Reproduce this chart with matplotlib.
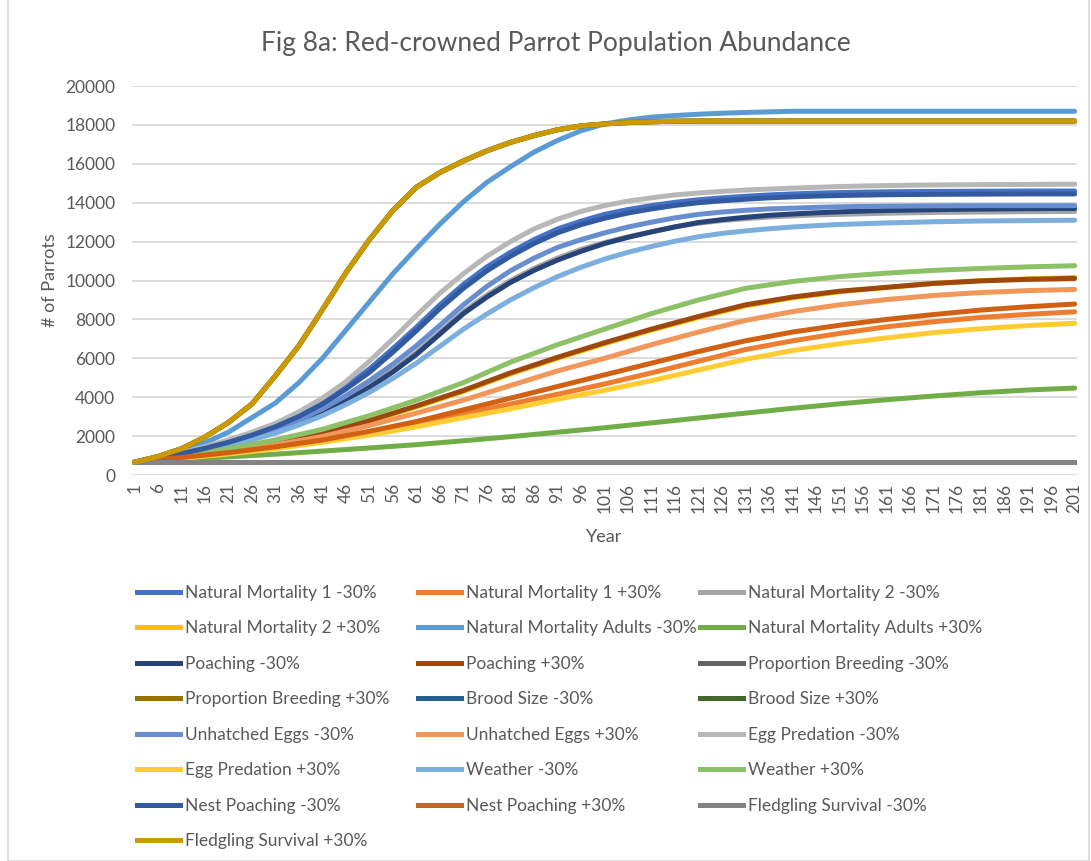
import matplotlib.pyplot as plt
from matplotlib.lines import Line2D
from matplotlib.patches import Rectangle

# Population abundance: fast-growing runs sampled every 5 years, slower runs every 10 years
years_5 = list(range(1, 202, 5))
years_10 = list(range(1, 202, 10))

nat_mort1_minus = [660, 880, 1120, 1400, 1720, 2100, 2550, 3100, 3750, 4550, 5450, 6500, 7600, 8750, 9800, 10700, 11450, 12100, 12650, 13050, 13400, 13650, 13850, 14020, 14150, 14250, 14330, 14400, 14450, 14490, 14520, 14540, 14560, 14570, 14580, 14585, 14590, 14595, 14600, 14600, 14600]
nat_mort1_plus = [660, 890, 1130, 1420, 1760, 2180, 2650, 3150, 3650, 4150, 4680, 5250, 5850, 6450, 6900, 7280, 7620, 7880, 8100, 8260, 8390]
nat_mort2_minus = [660, 850, 1060, 1300, 1580, 1910, 2280, 2730, 3250, 3870, 4580, 5400, 6300, 7350, 8400, 9250, 10000, 10620, 11150, 11600, 11950, 12250, 12500, 12750, 12950, 13080, 13180, 13260, 13320, 13370, 13400, 13430, 13460, 13480, 13500, 13510, 13520, 13530, 13540, 13545, 13550]
nat_mort2_plus = [660, 940, 1240, 1630, 2120, 2760, 3500, 4300, 5200, 6000, 6750, 7450, 8100, 8700, 9110, 9420, 9640, 9850, 9990, 10080, 10150]
nat_mort_adult_minus = [660, 900, 1250, 1650, 2200, 2950, 3700, 4750, 6000, 7450, 8900, 10350, 11650, 12900, 14050, 15050, 15850, 16600, 17200, 17700, 18050, 18250, 18400, 18480, 18550, 18600, 18640, 18670, 18700, 18700, 18700, 18700, 18700, 18700, 18700, 18700, 18700, 18700, 18700, 18700, 18700]
nat_mort_adult_plus = [660, 800, 930, 1070, 1230, 1390, 1560, 1760, 1970, 2200, 2430, 2680, 2930, 3180, 3430, 3660, 3870, 4060, 4230, 4370, 4470]
poaching_minus = [660, 840, 1050, 1290, 1560, 1880, 2250, 2690, 3200, 3800, 4500, 5300, 6200, 7250, 8300, 9150, 9900, 10520, 11050, 11500, 11900, 12220, 12500, 12760, 12980, 13130, 13250, 13350, 13420, 13480, 13530, 13570, 13600, 13620, 13640, 13660, 13670, 13680, 13690, 13700, 13700]
poaching_plus = [660, 950, 1250, 1650, 2150, 2800, 3550, 4350, 5250, 6050, 6800, 7500, 8150, 8750, 9150, 9450, 9650, 9850, 9980, 10060, 10110]
unhatched_minus = [660, 860, 1080, 1330, 1620, 1950, 2350, 2830, 3400, 4080, 4850, 5700, 6650, 7700, 8750, 9700, 10500, 11150, 11700, 12100, 12450, 12750, 13000, 13220, 13400, 13520, 13610, 13680, 13720, 13760, 13790, 13810, 13820, 13830, 13840, 13845, 13850, 13850, 13850, 13850, 13850]
unhatched_plus = [660, 920, 1200, 1550, 1980, 2550, 3180, 3850, 4600, 5350, 6000, 6700, 7350, 7950, 8400, 8750, 9020, 9230, 9380, 9480, 9540]
egg_pred_minus = [660, 900, 1150, 1450, 1800, 2200, 2650, 3250, 3950, 4800, 5850, 7000, 8200, 9350, 10350, 11250, 12000, 12650, 13150, 13550, 13850, 14080, 14250, 14400, 14500, 14580, 14650, 14700, 14750, 14790, 14830, 14860, 14880, 14900, 14910, 14920, 14930, 14935, 14940, 14945, 14950]
egg_pred_plus = [660, 860, 1080, 1350, 1680, 2050, 2480, 2950, 3400, 3900, 4350, 4850, 5400, 5950, 6400, 6750, 7050, 7320, 7520, 7680, 7800]
weather_minus = [660, 830, 1030, 1250, 1500, 1800, 2150, 2570, 3050, 3620, 4250, 4970, 5750, 6620, 7500, 8280, 9000, 9630, 10200, 10680, 11100, 11450, 11750, 12020, 12250, 12420, 12550, 12660, 12750, 12820, 12880, 12920, 12960, 12990, 13020, 13040, 13060, 13070, 13080, 13090, 13100]
weather_plus = [660, 1000, 1350, 1800, 2350, 3050, 3850, 4750, 5800, 6700, 7500, 8300, 9000, 9600, 9950, 10200, 10380, 10520, 10620, 10700, 10760]
nest_poaching_minus = [660, 870, 1100, 1370, 1680, 2050, 2480, 3010, 3650, 4420, 5280, 6320, 7420, 8560, 9600, 10500, 11250, 11900, 12450, 12870, 13200, 13470, 13680, 13860, 14000, 14100, 14180, 14250, 14300, 14340, 14370, 14390, 14410, 14420, 14430, 14435, 14440, 14445, 14450, 14450, 14450]
nest_poaching_plus = [660, 900, 1150, 1450, 1800, 2250, 2750, 3350, 3950, 4550, 5150, 5750, 6350, 6900, 7350, 7700, 8000, 8250, 8480, 8650, 8790]
fledgling_minus = [660, 660, 660, 660, 660, 660, 660, 660, 660, 660, 660, 660, 660, 660, 660, 660, 660, 660, 660, 660, 660]
fledgling_plus = [660, 950, 1350, 1950, 2700, 3650, 5100, 6650, 8500, 10400, 12100, 13600, 14800, 15550, 16150, 16670, 17100, 17450, 17750, 17950, 18050, 18120, 18160, 18190, 18200, 18200, 18200, 18200, 18200, 18200, 18200, 18200, 18200, 18200, 18200, 18200, 18200, 18200, 18200, 18200, 18200]
# fecundity terms multiply together, so these runs equal the fledgling ones
prop_breeding_minus = list(fledgling_minus)
prop_breeding_plus = list(fledgling_plus)
brood_minus = list(fledgling_minus)
brood_plus = list(fledgling_plus)

labels = [
    "Natural Mortality 1 -30%", "Natural Mortality 1 +30%", "Natural Mortality 2 -30%",
    "Natural Mortality 2 +30%", "Natural Mortality Adults -30%", "Natural Mortality Adults +30%",
    "Poaching -30%", "Poaching +30%", "Proportion Breeding -30%",
    "Proportion Breeding +30%", "Brood Size -30%", "Brood Size +30%",
    "Unhatched Eggs -30%", "Unhatched Eggs +30%", "Egg Predation -30%",
    "Egg Predation +30%", "Weather -30%", "Weather +30%",
    "Nest Poaching -30%", "Nest Poaching +30%", "Fledgling Survival -30%",
    "Fledgling Survival +30%",
]
series = [
    nat_mort1_minus, nat_mort1_plus, nat_mort2_minus, nat_mort2_plus,
    nat_mort_adult_minus, nat_mort_adult_plus, poaching_minus, poaching_plus,
    prop_breeding_minus, prop_breeding_plus, brood_minus, brood_plus,
    unhatched_minus, unhatched_plus, egg_pred_minus, egg_pred_plus,
    weather_minus, weather_plus, nest_poaching_minus, nest_poaching_plus,
    fledgling_minus, fledgling_plus,
]
colors = [
    "#4472C4", "#ED7D31", "#A5A5A5", "#FFC000", "#5B9BD5", "#70AD47",
    "#264478", "#9E480E", "#636363", "#997300", "#255E91", "#43682B",
    "#698ED0", "#F1975A", "#B7B7B7", "#FFCD33", "#7CAFDD", "#8CC168",
    "#335AA1", "#D26012", "#848484", "#CC9A00",
]

plt.rcParams['font.family'] = ['Lato', 'DejaVu Sans']
text_col = "#595959"
lw = 3.6

fig = plt.figure(figsize=(10.91, 8.61), dpi=100)
ax = fig.add_axes([132 / 1091, 1 - 475 / 861, (1077 - 132) / 1091, (475 - 86) / 861])

for vals, col in zip(series, colors):
    x = years_5 if len(vals) == len(years_5) else years_10
    ax.plot(x, vals, color=col, lw=lw, solid_capstyle='round', solid_joinstyle='round')

ax.set_xlim(0.5, 201.5)
ax.set_ylim(0, 20000)
ax.set_yticks(range(0, 20001, 2000))
ax.set_xticks(range(1, 202, 5))
ax.set_xticklabels([str(t) for t in range(1, 202, 5)], rotation=90)
ax.tick_params(axis='both', length=0, colors=text_col, labelsize=12.5)
ax.tick_params(axis='y', pad=12)
ax.tick_params(axis='x', pad=6)
ax.grid(axis='y', color='#D9D9D9', lw=1.3)
ax.set_axisbelow(True)
for s in ax.spines.values():
    s.set_visible(False)

ax.set_xlabel("Year", color=text_col, fontsize=13, labelpad=11.5)
ax.set_ylabel("# of Parrots", color=text_col, fontsize=13, labelpad=5)
fig.text(556 / 1091, 1 - 43 / 861, "Fig 8a: Red-crowned Parrot Population Abundance",
         ha='center', va='center', fontsize=19, color=text_col)

# legend laid out row by row in three fixed columns
handles = [Line2D([], [], color=c, lw=lw) for c in colors]
col_x = [137, 418, 700]
for j, x0 in enumerate(col_x):
    idx = list(range(j, len(labels), 3))
    fig.legend([handles[i] for i in idx], [labels[i] for i in idx],
               loc='upper left', bbox_to_anchor=(x0 / 1091, 1 - 585 / 861),
               frameon=False, fontsize=12.5, labelcolor=text_col,
               handlelength=2.5, handletextpad=0.25, labelspacing=1.12,
               borderaxespad=0, borderpad=0)

fig.patches.append(Rectangle((8 / 1091, 0), 1 - 10 / 1091, 1.2, transform=fig.transFigure,
                             fill=False, edgecolor='#D9D9D9', lw=1.2))

fig.savefig("out.png", dpi=100)
